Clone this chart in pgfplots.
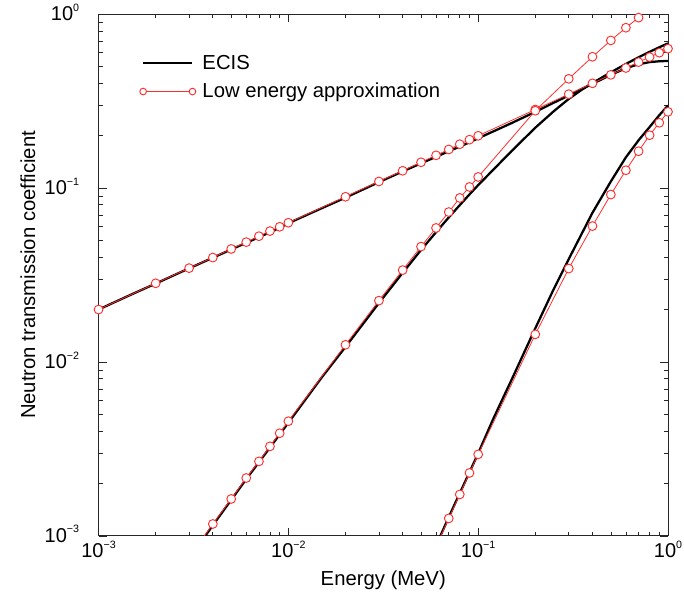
\documentclass[border=0pt]{standalone}
\usepackage{fontspec}
\setmainfont{Liberation Sans}
\usepackage{pgfplots}
\pgfplotsset{compat=1.18}
\definecolor{lered}{RGB}{255,45,45}
\newcommand{\tl}[1]{10\smash{\raisebox{7.3pt}{\fontsize{8}{8}\selectfont #1}}}
\begin{document}
\begin{tikzpicture}
\begin{loglogaxis}[
  scale only axis, width=427pt, height=391.3pt,
  xmin=0.001, xmax=1, ymin=0.001, ymax=1,
  xtick={0.001,0.01,0.1,1}, ytick={0.001,0.01,0.1,1},
  xticklabels={\tl{−3},\tl{−2},\tl{−1},\tl{0}},
  yticklabels={\tl{−3},\tl{−2},\tl{−1},\tl{0}},
  minor xtick={0.002,0.003,0.004,0.005,0.006,0.007,0.008,0.009,0.02,0.03,0.04,0.05,0.06,0.07,0.08,0.09,0.2,0.3,0.4,0.5,0.6,0.7,0.8,0.9},
  minor ytick={0.002,0.003,0.004,0.005,0.006,0.007,0.008,0.009,0.02,0.03,0.04,0.05,0.06,0.07,0.08,0.09,0.2,0.3,0.4,0.5,0.6,0.7,0.8,0.9},
  tick align=inside,
  major tick length=6pt, minor tick length=3pt,
  axis line style={line width=0.6pt, black!85},
  every tick/.append style={line width=0.5pt, black!85},
  tick label style={font=\fontsize{15}{17}\selectfont},
  yticklabel style={xshift=-11pt},
  xticklabel style={yshift=-2.5pt},
  xlabel={Energy (MeV)}, ylabel={Neutron transmission coefficient},
  label style={font=\fontsize{15.2}{18}\selectfont},
  x label style={at={(axis description cs:0.5,0)}, anchor=center, yshift=-33pt},
  y label style={at={(axis description cs:0,0.5)}, anchor=center, yshift=52.9pt},
  clip mode=individual,
  legend style={draw=none, fill=none, at={(axis description cs:0.072,0.927)}, anchor=north west,
    inner sep=0pt, row sep=5pt, font=\fontsize{15.2}{18}\selectfont,
    /tikz/every odd column/.append style={column sep=3pt}},
  legend cell align=left,
  legend image code/.code={\draw[#1, mark=none] (0pt,0pt) -- (37pt,0pt);
    \draw[#1, only marks, mark size=2.5pt] plot coordinates {(0pt,0pt) (37pt,0pt)};},
]
% ECIS (black)
\addplot[black, line width=1.7pt, no marks] coordinates {
(0.001,0.0200) (0.0015,0.0245) (0.002,0.0282) (0.003,0.0345) (0.004,0.0397) (0.005,0.0443)
(0.006,0.0484) (0.007,0.0521) (0.008,0.0556) (0.009,0.0589) (0.01,0.0627) (0.015,0.0765)
(0.02,0.0880) (0.03,0.1080) (0.04,0.1245) (0.05,0.1385) (0.06,0.1510) (0.07,0.1625)
(0.08,0.1730) (0.09,0.1830) (0.1,0.1930) (0.15,0.2360) (0.2,0.2740) (0.25,0.3090)
(0.3,0.3400) (0.35,0.3700) (0.4,0.3970) (0.5,0.4470) (0.6,0.4880) (0.7,0.5140)
(0.8,0.5290) (0.9,0.5350) (1.0,0.5370)};
\addlegendentry{ECIS}
\addplot[black, line width=1.7pt, no marks, forget plot] coordinates {
(0.003,0.00074) (0.004,0.00115) (0.005,0.00161) (0.006,0.00212) (0.007,0.00265) (0.008,0.00322)
(0.009,0.00383) (0.01,0.00447) (0.015,0.00815) (0.02,0.0122) (0.03,0.0218) (0.04,0.0325)
(0.05,0.0440) (0.06,0.0557) (0.07,0.0677) (0.08,0.0797) (0.09,0.0918) (0.1,0.1038)
(0.15,0.163) (0.2,0.222) (0.25,0.276) (0.3,0.325) (0.35,0.366) (0.4,0.401) (0.5,0.462)
(0.6,0.516) (0.7,0.564) (0.8,0.606) (0.9,0.644) (1.0,0.678)};
\addplot[black, line width=1.7pt, no marks, forget plot] coordinates {
(0.06,0.00088) (0.07,0.00128) (0.08,0.00176) (0.09,0.00232) (0.1,0.00298) (0.12,0.0047)
(0.15,0.0079) (0.2,0.0156) (0.25,0.0262) (0.3,0.0390) (0.4,0.0720) (0.5,0.109)
(0.6,0.150) (0.7,0.188) (0.8,0.224) (0.9,0.262) (1.0,0.298)};
% Low energy approximation (red)
\addplot[lered, line width=0.6pt, mark=*, mark size=3.3pt, mark options={fill=white, draw=lered, line width=0.7pt}] coordinates {
(0.001,0.0200) (0.002,0.0283) (0.003,0.0346) (0.004,0.0398) (0.005,0.0446) (0.006,0.0488)
(0.007,0.0528) (0.008,0.0565) (0.009,0.0598) (0.01,0.0631) (0.02,0.0890) (0.03,0.1090)
(0.04,0.1255) (0.05,0.1405) (0.06,0.1540) (0.07,0.1665) (0.08,0.1785) (0.09,0.1895)
(0.1,0.1995) (0.2,0.2825) (0.3,0.3460) (0.4,0.3995) (0.5,0.4470) (0.6,0.4895)
(0.7,0.5290) (0.8,0.5655) (0.9,0.5995) (1.0,0.6320)};
\addlegendentry{Low energy approximation}
\addplot[lered, line width=0.6pt, no marks, forget plot] coordinates {(0.003,0.00075) (0.004,0.00117)};
\addplot[lered, line width=0.6pt, mark=*, mark size=3.3pt, mark options={fill=white, draw=lered, line width=0.7pt}, forget plot] coordinates {
(0.004,0.00117) (0.005,0.00163) (0.006,0.00215) (0.007,0.00268) (0.008,0.00327) (0.009,0.00389)
(0.01,0.00456) (0.02,0.01254) (0.03,0.0225) (0.04,0.0337) (0.05,0.0460) (0.06,0.0589)
(0.07,0.0727) (0.08,0.0876) (0.09,0.1013) (0.1,0.1157) (0.2,0.2780) (0.3,0.4240)
(0.4,0.5680) (0.5,0.7050) (0.6,0.8340) (0.7,0.9530)};
\addplot[lered, line width=0.6pt, no marks, forget plot] coordinates {(0.06,0.00087) (0.07,0.00126)};
\addplot[lered, line width=0.6pt, mark=*, mark size=3.3pt, mark options={fill=white, draw=lered, line width=0.7pt}, forget plot] coordinates {
(0.07,0.00126) (0.08,0.00173) (0.09,0.00230) (0.1,0.00294) (0.2,0.0144) (0.3,0.0344)
(0.4,0.0604) (0.5,0.0916) (0.6,0.1264) (0.7,0.1626) (0.8,0.2010) (0.9,0.2370) (1.0,0.2740)};
\end{loglogaxis}
\pgfresetboundingbox
\path ([xshift=-73.9pt,yshift=-49pt]current axis.south west) rectangle ([xshift=12pt,yshift=10.5pt]current axis.north east);
\end{tikzpicture}
\end{document}
